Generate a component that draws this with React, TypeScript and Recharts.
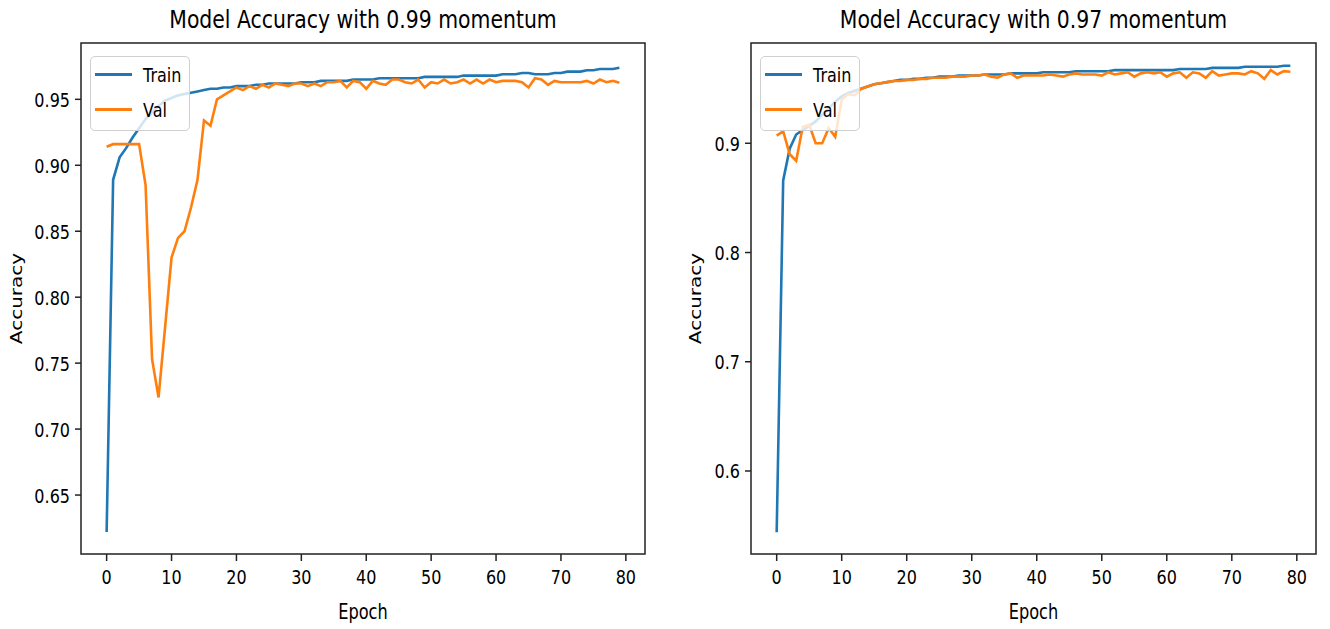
import React from "react";
import { LineChart, Line, XAxis, YAxis, Legend, ReferenceArea } from "recharts";

// ---- data ----
const epochs = Array.from({ length: 80 }, (_, i) => i);
const xTicks = [0, 10, 20, 30, 40, 50, 60, 70, 80];

const leftTrain = [
  0.622, 0.889, 0.906, 0.913, 0.921, 0.928, 0.935, 0.94, 0.945, 0.949,
  0.951, 0.953, 0.954, 0.955, 0.956, 0.957, 0.958, 0.958, 0.959, 0.959,
  0.96, 0.96, 0.96, 0.961, 0.961, 0.962, 0.962, 0.962, 0.962, 0.962,
  0.963, 0.963, 0.963, 0.964, 0.964, 0.964, 0.964, 0.964, 0.965, 0.965,
  0.965, 0.965, 0.966, 0.966, 0.966, 0.966, 0.966, 0.966, 0.966, 0.967,
  0.967, 0.967, 0.967, 0.967, 0.967, 0.968, 0.968, 0.968, 0.968, 0.968,
  0.968, 0.969, 0.969, 0.969, 0.97, 0.97, 0.969, 0.969, 0.969, 0.97,
  0.97, 0.971, 0.971, 0.971, 0.972, 0.972, 0.973, 0.973, 0.973, 0.974,
];
const leftVal = [
  0.914, 0.916, 0.916, 0.916, 0.916, 0.916, 0.885, 0.753, 0.724, 0.777,
  0.83, 0.845, 0.85, 0.868, 0.889, 0.934, 0.93, 0.95, 0.953, 0.956,
  0.959, 0.957, 0.96, 0.958, 0.961, 0.959, 0.962, 0.961, 0.96, 0.962,
  0.962, 0.96, 0.962, 0.96, 0.963, 0.963, 0.964, 0.959, 0.964, 0.963,
  0.958, 0.964, 0.962, 0.961, 0.965, 0.965, 0.963, 0.962, 0.965, 0.959,
  0.963, 0.962, 0.965, 0.962, 0.963, 0.965, 0.962, 0.965, 0.962, 0.965,
  0.963, 0.964, 0.964, 0.964, 0.963, 0.959, 0.966, 0.965, 0.961, 0.964,
  0.963, 0.963, 0.963, 0.963, 0.964, 0.962, 0.965, 0.963, 0.964, 0.9625,
];
const rightTrain = [
  0.544, 0.866, 0.895, 0.908, 0.912, 0.916, 0.92, 0.926, 0.932, 0.938,
  0.943, 0.946, 0.948, 0.95, 0.952, 0.954, 0.955, 0.956, 0.957, 0.958,
  0.958, 0.959, 0.959, 0.96, 0.96, 0.961, 0.961, 0.961, 0.962, 0.962,
  0.962, 0.962, 0.963, 0.963, 0.963, 0.963, 0.964, 0.964, 0.964, 0.964,
  0.964, 0.965, 0.965, 0.965, 0.965, 0.965, 0.966, 0.966, 0.966, 0.966,
  0.966, 0.966, 0.967, 0.967, 0.967, 0.967, 0.967, 0.967, 0.967, 0.967,
  0.967, 0.967, 0.968, 0.968, 0.968, 0.968, 0.968, 0.969, 0.969, 0.969,
  0.969, 0.969, 0.97, 0.97, 0.97, 0.97, 0.97, 0.97, 0.971, 0.971,
];
const rightVal = [
  0.907, 0.911, 0.89, 0.884, 0.915, 0.917, 0.9, 0.9, 0.914, 0.906,
  0.94, 0.945, 0.944, 0.95, 0.952, 0.954, 0.955, 0.956, 0.957, 0.957,
  0.958, 0.958, 0.959, 0.959, 0.96, 0.96, 0.96, 0.961, 0.961, 0.961,
  0.962, 0.962, 0.963, 0.961, 0.96, 0.963, 0.964, 0.96, 0.962, 0.962,
  0.962, 0.962, 0.963, 0.962, 0.961, 0.963, 0.964, 0.963, 0.963, 0.963,
  0.962, 0.965, 0.963, 0.964, 0.965, 0.961, 0.964, 0.965, 0.964, 0.965,
  0.961, 0.964, 0.965, 0.96, 0.965, 0.964, 0.96, 0.966, 0.962, 0.963,
  0.964, 0.964, 0.963, 0.966, 0.964, 0.959, 0.967, 0.963, 0.966, 0.9655,
];

const leftTicks = [0.65, 0.7, 0.75, 0.8, 0.85, 0.9, 0.95];
const rightTicks = [0.6, 0.7, 0.8, 0.9];

// ---- look ----
const FONT = "'DejaVu Sans', sans-serif";
const SQ = 0.8; // the reference is squeezed sideways
const INK = "#222";
const X_DOMAIN: [number, number] = [-3.95, 82.95];
const CHART_W = 665;
const CHART_H = 629;
const PLOT_TOP = 43;
const PLOT_BOTTOM = 554;
const X_AXIS_H = 40;
const Y_AXIS_W = 60;

function XTick({ x, y, payload }: any) {
  return (
    <g transform={`translate(${x},${y}) scale(${SQ},1)`}>
      <text textAnchor="middle" dy="0.71em" fontSize={20} fontFamily={FONT} fill="#000">
        {payload.value}
      </text>
    </g>
  );
}

function YTick({ x, y, payload, digits }: any) {
  return (
    <g transform={`translate(${x},${y}) scale(${SQ},1)`}>
      <text textAnchor="end" dy={7.5} fontSize={20} fontFamily={FONT} fill="#000">
        {Number(payload.value).toFixed(digits)}
      </text>
    </g>
  );
}

function MplLegend({ payload }: any) {
  return (
    <div
      style={{
        position: "relative",
        width: 100,
        height: 75,
        boxSizing: "border-box",
        border: "1.5px solid #d0d0d0",
        borderRadius: 5,
        background: "rgba(255,255,255,0.8)",
        fontFamily: FONT,
      }}
    >
      {(payload ?? []).map((item: any, i: number) => (
        <div key={item.value} style={{ position: "absolute", left: 0, top: 17.5 + 35 * i, height: 0 }}>
          <div style={{ position: "absolute", left: 4, top: -1.5, width: 37, height: 3, background: item.color }} />
          <div
            style={{
              position: "absolute",
              left: 52,
              top: -12,
              fontSize: 20,
              lineHeight: "24px",
              transform: `scaleX(${SQ})`,
              transformOrigin: "left center",
              whiteSpace: "nowrap",
              color: "#000",
            }}
          >
            {item.value}
          </div>
        </div>
      ))}
    </div>
  );
}

interface PanelProps {
  left: number;
  train: number[];
  val: number[];
  yDomain: [number, number];
  yTicks: number[];
  digits: number;
  marginLeft: number;
  marginRight: number;
}

function Panel({ left, train, val, yDomain, yTicks, digits, marginLeft, marginRight }: PanelProps) {
  const data = epochs.map((epoch, i) => ({ epoch, train: train[i], val: val[i] }));
  const tickLine = { stroke: INK, strokeWidth: 1.5 };
  return (
    <div style={{ position: "absolute", left, top: 0 }}>
      <LineChart
        width={CHART_W}
        height={CHART_H}
        data={data}
        margin={{ top: PLOT_TOP, right: marginRight, bottom: CHART_H - PLOT_BOTTOM - X_AXIS_H, left: marginLeft }}
      >
        <XAxis
          dataKey="epoch"
          type="number"
          domain={X_DOMAIN}
          ticks={xTicks}
          interval={0}
          allowDataOverflow
          axisLine={false}
          tickLine={tickLine}
          tickSize={7}
          tickMargin={9}
          height={X_AXIS_H}
          tick={(p: any) => <XTick {...p} />}
        />
        <YAxis
          type="number"
          domain={yDomain}
          ticks={yTicks}
          interval={0}
          allowDataOverflow
          axisLine={false}
          tickLine={tickLine}
          tickSize={6}
          tickMargin={5}
          width={Y_AXIS_W}
          tick={(p: any) => <YTick {...p} digits={digits} />}
        />
        <Line dataKey="train" name="Train" stroke="#1f77b4" strokeWidth={2.6} dot={false} isAnimationActive={false} />
        <Line dataKey="val" name="Val" stroke="#ff7f0e" strokeWidth={2.6} dot={false} isAnimationActive={false} />
        <ReferenceArea
          x1={X_DOMAIN[0]}
          x2={X_DOMAIN[1]}
          y1={yDomain[0]}
          y2={yDomain[1]}
          fill="none"
          fillOpacity={0}
          stroke={INK}
          strokeWidth={1.5}
          ifOverflow="visible"
        />
        <Legend
          layout="vertical"
          align="center"
          verticalAlign="middle"
          content={(p: any) => <MplLegend {...p} />}
          wrapperStyle={{ top: 56, left: marginLeft + Y_AXIS_W + 9, width: 100, height: 75 }}
        />
      </LineChart>
    </div>
  );
}

function Labels() {
  const txt = { fontFamily: FONT, fill: "#000" };
  return (
    <svg width={1330} height={629} style={{ position: "absolute", left: 0, top: 0, pointerEvents: "none" }}>
      <text transform="translate(363,28) scale(0.85,1)" textAnchor="middle" fontSize={24} {...txt}>
        Model Accuracy with 0.99 momentum
      </text>
      <text transform="translate(1033.5,28) scale(0.85,1)" textAnchor="middle" fontSize={24} {...txt}>
        Model Accuracy with 0.97 momentum
      </text>
      <text transform="translate(363,619) scale(0.77,1)" textAnchor="middle" fontSize={21} {...txt}>
        Epoch
      </text>
      <text transform="translate(1033.5,619) scale(0.77,1)" textAnchor="middle" fontSize={21} {...txt}>
        Epoch
      </text>
      <text transform={`translate(22,298.5) scale(${SQ},1) rotate(-90)`} textAnchor="middle" fontSize={20} {...txt}>
        Accuracy
      </text>
      <text transform={`translate(701,298.5) scale(${SQ},1) rotate(-90)`} textAnchor="middle" fontSize={20} {...txt}>
        Accuracy
      </text>
    </svg>
  );
}

export default function App() {
  return (
    <div style={{ position: "absolute", left: 0, top: 0, width: 1330, height: 629, background: "#fff", overflow: "hidden" }}>
      <Panel
        left={0}
        train={leftTrain}
        val={leftVal}
        yDomain={[0.6053, 0.9927]}
        yTicks={leftTicks}
        digits={2}
        marginLeft={81 - Y_AXIS_W}
        marginRight={CHART_W - 645}
      />
      <Panel
        left={CHART_W}
        train={rightTrain}
        val={rightVal}
        yDomain={[0.524, 0.9918]}
        yTicks={rightTicks}
        digits={1}
        marginLeft={751 - CHART_W - Y_AXIS_W}
        marginRight={1330 - 1316}
      />
      <Labels />
    </div>
  );
}
